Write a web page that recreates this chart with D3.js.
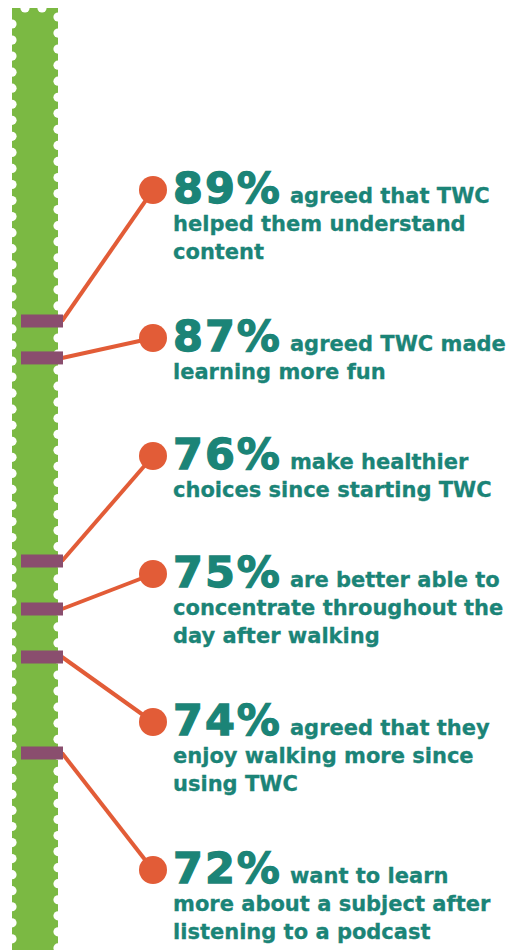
<!DOCTYPE html>
<html>
<head>
<meta charset="utf-8">
<script src="https://cdn.jsdelivr.net/npm/d3@7"></script>
<style>
	body { margin: 0; background: #fff; }
	svg { display: block; }
	.big { font-family: "DejaVu Sans", sans-serif; font-weight: bold; letter-spacing: 2px; stroke: #1b8477; stroke-width: 1.3px; }
	.small { font-family: "DejaVu Sans", sans-serif; font-weight: bold; letter-spacing: 0; stroke: #1b8477; stroke-width: 0.3px; }
</style>
</head>
<body>
<div id="chart"></div>
<script>
	// survey results, top to bottom
	var values = [89, 87, 76, 75, 74, 72];
	var captions = [
		["agreed that TWC", "helped them understand", "content"],
		["agreed TWC made", "learning more fun"],
		["make healthier", "choices since starting TWC"],
		["are better able to", "concentrate throughout the", "day after walking"],
		["agreed that they", "enjoy walking more since", "using TWC"],
		["want to learn", "more about a subject after", "listening to a podcast"]
	];

	var width = 530, height = 950;
	var green = "#7bb943", purple = "#8a4e6e", orange = "#e25c37", teal = "#1b8477";

	var bar = {x: 12, w: 46, top: 8};
	var notch = 4.6, notchStep = 16.05;

	var svg = d3.select("#chart").append("svg")
		.attr("width", width)
		.attr("height", height);

	// green "stamp" bar
	svg.append("rect")
		.attr("x", bar.x)
		.attr("y", bar.top)
		.attr("width", bar.w)
		.attr("height", height - bar.top)
		.attr("fill", green);

	var notches = svg.append("g").attr("fill", "#fff");
	notches.selectAll("circle.left")
		.data(d3.range(bar.top + 16, height + notch, notchStep))
		.enter().append("circle")
		.attr("cx", bar.x)
		.attr("cy", function(d) { return d; })
		.attr("r", notch);
	notches.selectAll("circle.right")
		.data(d3.range(bar.top + 9, height + notch, notchStep))
		.enter().append("circle")
		.attr("cx", bar.x + bar.w)
		.attr("cy", function(d) { return d; })
		.attr("r", notch);
	notches.selectAll("circle.top")
		.data([bar.x + 13, bar.x + 30])
		.enter().append("circle")
		.attr("cx", function(d) { return d; })
		.attr("cy", bar.top)
		.attr("r", notch);

	// marker position along the bar (scale is stretched, not even)
	var y = d3.scaleLinear()
		.domain([72, 76, 89])
		.range([753, 561, 321]);

	// label blocks stack down the page, height depends on line count
	var lineH = 28, blockGap = 58, perLine = 30;
	var blockY = [];
	var cur = 190;
	for (var i = 0; i < values.length; i++) {
		blockY.push(cur);
		cur += blockGap + perLine * captions[i].length;
	}

	var items = values.map(function(v, i) {
		return {value: v, lines: captions[i], ly: blockY[i]};
	});

	var markW = 42, markH = 13, markX = 21;
	var dotX = 153, dotR = 14;

	svg.append("g").selectAll("line")
		.data(items)
		.enter().append("line")
		.attr("x1", markX + markW - 1)
		.attr("y1", function(d) { return y(d.value); })
		.attr("x2", dotX)
		.attr("y2", function(d) { return d.ly; })
		.attr("stroke", orange)
		.attr("stroke-width", 4);

	svg.append("g").selectAll("rect")
		.data(items)
		.enter().append("rect")
		.attr("x", markX)
		.attr("y", function(d) { return y(d.value) - markH / 2; })
		.attr("width", markW)
		.attr("height", markH)
		.attr("fill", purple);

	svg.append("g").selectAll("circle")
		.data(items)
		.enter().append("circle")
		.attr("cx", dotX)
		.attr("cy", function(d) { return d.ly; })
		.attr("r", dotR)
		.attr("fill", orange);

	var labels = svg.append("g").selectAll("g")
		.data(items)
		.enter().append("g")
		.attr("transform", function(d) { return "translate(173," + (d.ly + 13) + ")"; });

	labels.each(function(d) {
		var g = d3.select(this);
		var first = g.append("text").attr("fill", teal);
		first.append("tspan")
			.classed("big", true)
			.attr("font-size", 43)
			.text(d.value + "%");
		first.append("tspan")
			.classed("small", true)
			.attr("dx", 8)
			.attr("font-size", 21)
			.text(d.lines[0]);
		for (var k = 1; k < d.lines.length; k++) {
			g.append("text")
				.classed("small", true)
				.attr("fill", teal)
				.attr("font-size", 21)
				.attr("y", k * lineH)
				.text(d.lines[k]);
		}
	});
</script>
</body>
</html>
